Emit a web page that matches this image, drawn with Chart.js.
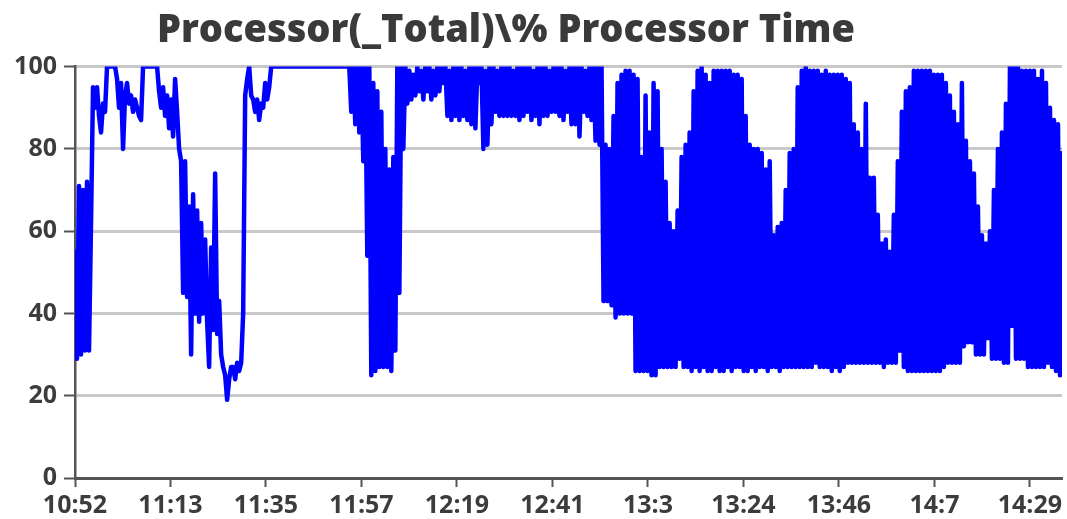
<!DOCTYPE html>
<html>
<head>
<meta charset="utf-8">
<script src="https://cdn.jsdelivr.net/npm/chart.js@4/dist/chart.umd.min.js"></script>
<style>
  html, body { margin: 0; padding: 0; background: #ffffff; }
  #wrap { position: relative; width: 1067px; height: 519px; }
  canvas { display: block; }
</style>
</head>
<body>
<div id="wrap"><canvas id="c" width="1067" height="519"></canvas></div>
<script>
// ---- data ----
const chartTitle = 'Processor(_Total)\\% Processor Time';
const tickLabels = ['10:52','11:13','11:35','11:57','12:19','12:41','13:3','13:24','13:46','14:7','14:29'];
const tickMinutes = [0, 21.75, 43.5, 65.25, 87, 108.75, 130.5, 152.25, 174, 195.75, 217.5];
const sampleMinutes = 27.36 / 60;   // one sample every ~27 s
const yTicks = [0, 20, 40, 60, 80, 100];

// 10:52 - 11:55
const valuesA = [
  55, 29, 71, 30, 70, 31, 72, 31, 62, 95,
  90, 95, 88, 84, 91, 89, 100, 100, 100, 100,
  100, 97, 90, 96, 80, 93, 96, 91, 93, 89,
  92, 90, 88, 87, 100, 100, 100, 100, 100, 100,
  100, 100, 94, 90, 95, 88, 93, 85, 92, 83,
  97, 89, 80, 77, 45, 77, 44, 66, 30, 69,
  40, 65, 38, 62, 40, 58, 38, 27, 56, 36,
  74, 35, 43, 30, 27, 25, 19, 24, 27, 27,
  24, 28, 26, 28, 40, 93, 97, 100, 93, 92,
  89, 92, 87, 91, 90, 96, 92, 95,
  100, 100, 100, 100, 100, 100, 100, 100, 100, 100,
  100, 100, 100, 100, 100, 100, 100, 100, 100, 100,
  100, 100, 100, 100, 100, 100, 100, 100, 100, 100,
  100, 100, 100, 100, 100, 100, 100, 100, 100
];
// 11:55 - 12:52
const valuesB = [
  100, 89, 100, 86, 100, 84, 100, 77, 100, 54, 100, 25, 96, 26, 94, 27, 89, 27, 80, 27,
  75, 26, 78, 31, 100, 45, 100, 80,
  100, 91, 99, 92, 98, 93, 100, 94, 99, 92, 100, 94, 100, 92, 99, 93, 100, 94, 100, 96,
  100, 88, 99, 87, 100, 88, 100, 87, 100, 88, 99, 87, 100, 86, 100, 85, 100, 96, 100, 80,
  99, 81, 100, 86, 100, 89, 99, 88, 100, 88, 100, 88, 100, 88, 99, 88, 100, 87, 100, 88,
  100, 89, 100, 87, 99, 88, 100, 86, 100, 88, 100, 88, 99, 89, 100, 89, 100, 88, 100, 87,
  99, 89, 100, 86, 100, 86, 100, 83, 100, 89, 99, 88, 100, 87, 100, 82, 100, 81,
  100
];
// 12:52 - 14:37
const valuesC = [
  43, 81, 43, 80, 42, 88, 39, 96, 40, 98, 40, 99, 40, 99, 40, 98, 26, 97, 26, 78,
  26, 93, 26, 84, 25, 96, 25, 94, 27, 80, 27, 72, 27, 62, 27, 60, 27, 65, 29, 78,
  27, 81, 27, 84, 26, 94, 27, 99, 26, 100, 27, 98, 26, 96, 26, 99, 27, 99, 26, 99,
  26, 99, 27, 99, 26, 98, 27, 98, 27, 97, 26, 88, 26, 81, 27, 80, 26, 80, 27, 79,
  27, 75, 26, 77, 27, 59, 27, 61, 26, 62, 27, 70, 27, 79, 27, 80, 27, 95, 27, 99,
  27, 100, 27, 99, 27, 99, 28, 99, 27, 98, 27, 99, 27, 98, 26, 98, 27, 98, 26, 98,
  27, 97, 28, 96, 28, 86, 28, 84, 28, 80, 28, 91, 28, 73, 28, 73, 28, 64, 28, 57,
  27, 58, 28, 55, 28, 64, 28, 77, 31, 89, 27, 94, 26, 95, 26, 99, 26, 99, 26, 99,
  26, 99, 26, 99, 26, 98, 26, 98, 26, 98, 27, 96, 28, 93, 28, 89, 28, 86, 28, 96,
  32, 82, 33, 77, 33, 74, 30, 66, 30, 59, 30, 57, 34, 60, 29, 70, 29, 80, 29, 84,
  28, 91, 28, 100, 37, 100, 29, 100, 29, 99, 29, 99, 27, 99, 27, 99, 27, 97, 27, 99,
  27, 96, 28, 90, 27, 87, 26, 86, 25, 79
];
const values = valuesA.concat(valuesB, valuesC);

const points = values.map((v, i) => ({ x: i * sampleMinutes, y: v }));

const titleShift = {
  id: 'titleShift',
  afterLayout(chart) {
    if (chart.titleBlock) { chart.titleBlock.right = 1012; }
  }
};

new Chart(document.getElementById('c'), {
  type: 'line',
  data: {
    datasets: [{
      data: points,
      borderColor: '#0000ff',
      borderWidth: 4.5,
      borderJoinStyle: 'round',
      borderCapStyle: 'round',
      pointRadius: 0,
      tension: 0,
      fill: false
    }]
  },
  options: {
    responsive: false,
    animation: false,
    layout: { padding: { left: 0, right: 5, top: 0, bottom: 0 } },
    plugins: {
      legend: { display: false },
      tooltip: { enabled: false },
      title: {
        display: true,
        text: chartTitle,
        color: '#3a3a3a',
        font: { family: 'Open Sans', size: 38, weight: '800' },
        padding: { top: 8, bottom: 13 },
        lineHeight: 1.2
      }
    },
    scales: {
      x: {
        type: 'linear',
        min: 0,
        max: (values.length - 1) * sampleMinutes,
        afterBuildTicks(scale) { scale.ticks = tickMinutes.map(v => ({ value: v })); },
        afterFit(scale) { scale.height = 41; },
        ticks: {
          autoSkip: false,
          maxRotation: 0,
          padding: 4,
          color: '#3c3c3c',
          font: { family: 'Open Sans', size: 25, weight: '700' },
          callback: (value, index) => tickLabels[index]
        },
        grid: { display: true, drawOnChartArea: false, drawTicks: true, tickLength: 9, tickColor: '#555555', tickWidth: 2 },
        border: { display: true, color: '#555555', width: 3 }
      },
      y: {
        min: 0,
        max: 100,
        afterBuildTicks(scale) { scale.ticks = yTicks.map(v => ({ value: v })); },
        afterFit(scale) { scale.width = 75; },
        ticks: {
          padding: 7,
          color: '#3c3c3c',
          font: { family: 'Open Sans', size: 25, weight: '700' }
        },
        grid: { color: '#c8c8c8', lineWidth: 3, drawTicks: true, tickLength: 11, tickColor: '#555555', tickWidth: 2 },
        border: { display: true, color: '#555555', width: 2.5 }
      }
    }
  },
  plugins: [titleShift]
});
</script>
</body>
</html>
